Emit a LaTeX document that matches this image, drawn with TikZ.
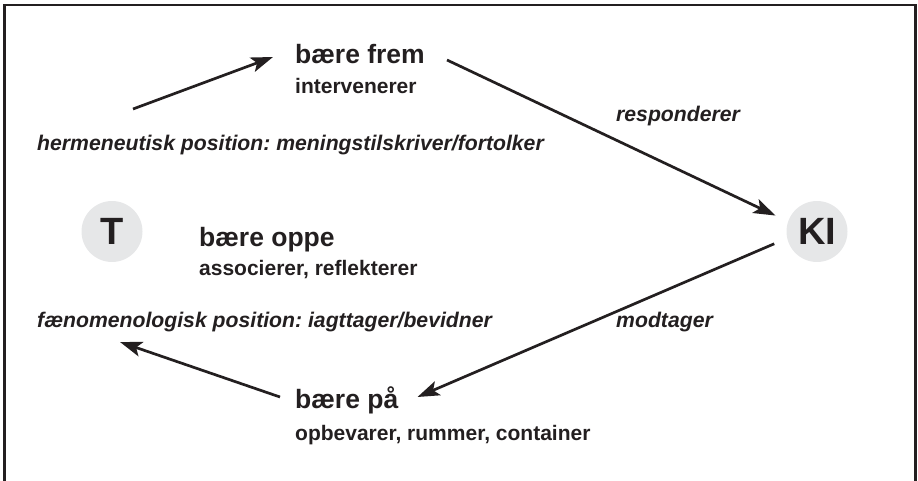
\documentclass[tikz,border=0pt]{standalone}
\usepackage{fontspec}
\setmainfont{Liberation Sans}
\usepackage{xcolor}
\usepackage{tikz}
\usetikzlibrary{arrows.meta, positioning}
\definecolor{ink}{HTML}{231F20}
\definecolor{disc}{HTML}{E6E7E8}
\frenchspacing

\begin{document}
\begin{tikzpicture}[
    x=1pt, y=-1pt,
    head/.style={inner sep=0pt, anchor=base west, text=ink, font=\fontsize{26.5}{30}\selectfont\bfseries},
    sub/.style={inner sep=0pt, anchor=base west, text=ink, font=\fontsize{21}{24}\selectfont\bfseries},
    stance/.style={inner sep=0pt, anchor=base west, text=ink, font=\fontsize{21.2}{24}\selectfont\bfseries\itshape},
    agent/.style={circle, fill=disc, minimum size=61pt, inner sep=0pt, outer sep=14pt, text=ink, font=\fontsize{38}{40}\selectfont\bfseries},
    arrow/.style={-{Stealth[length=22pt, width=15pt, inset=5pt]}, line width=2.7pt, draw=ink},
    frame/.style={draw=ink, line width=2.4pt}
  ]

    \useasboundingbox (0,0) rectangle (918,481);
    \draw[frame] (4.5,5) rectangle (915.5,500);

    \node[agent] (T) at (112,231.5) {T};
    \node[agent] (KI) at (817,231.5) {KI};

    \node[head] (frem) at (295,64) {bære frem};
    \node[sub] (frem-sub) at ([shift={(0,30)}]frem.base west) {intervenerer};
    \node[head] (oppe) at (199,247) {bære oppe};
    \node[sub] (oppe-sub) at ([shift={(0,28)}]oppe.base west) {associerer, reflekterer};
    \node[head] (paa) at (295,408) {bære på};
    \node[sub] (paa-sub) at ([shift={(0,32)}]paa.base west) {opbevarer, rummer, container};

    \node[stance] (herm) at (37,151) {hermeneutisk position: meningstilskriver/fortolker};
    \node[stance] (faen) at (37,327) {fænomenologisk position: iagttager/bevidner};
    \node[stance] (resp) at (616,122) {responderer};
    \node[stance] (modt) at (616,327) {modtager};

    % kredsloebet
    \draw[arrow] ([shift={(96,-42)}]herm.base west) -- ([shift={(-22,-7)}]frem.base west);
    \draw[arrow] ([shift={(22,-4)}]frem.base east) -- (KI.159);
    \draw[arrow] (KI.196) -- ([shift={(19,-11)}]paa.base east);
    \draw[arrow] ([shift={(-15,-11)}]paa.base west) -- ([shift={(83,15)}]faen.base west);

  \end{tikzpicture}
\end{document}
